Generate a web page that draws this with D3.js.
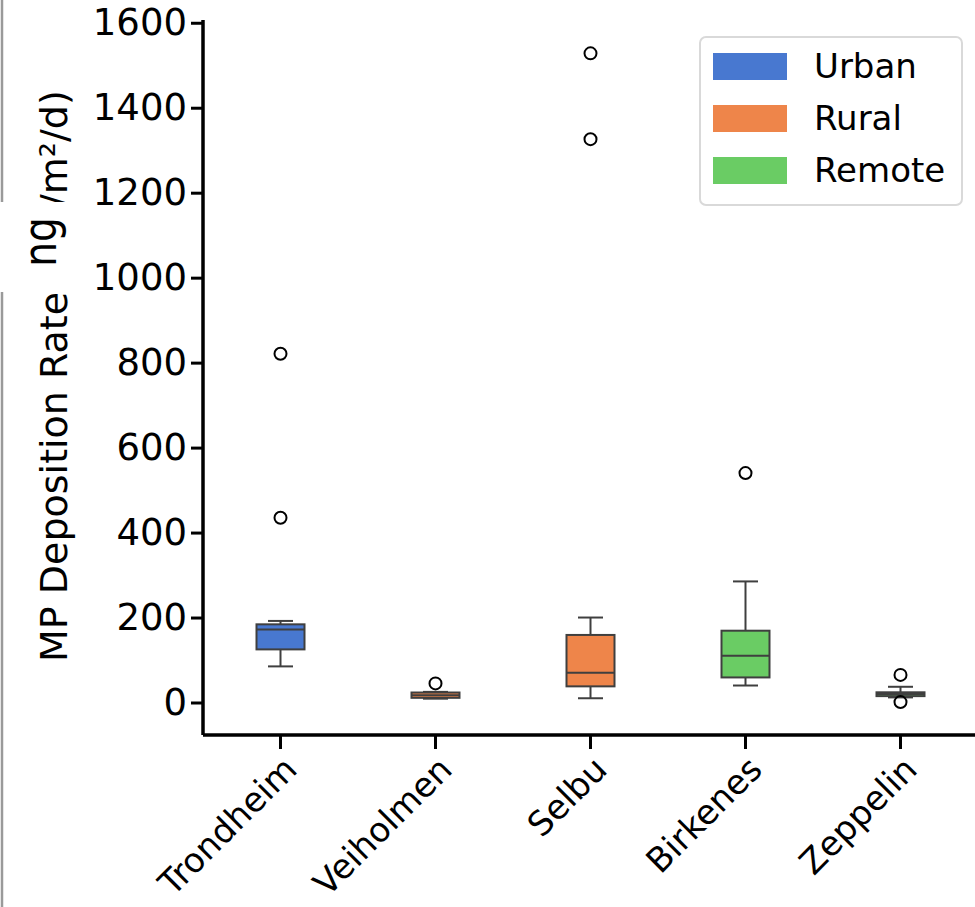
<!DOCTYPE html>
<html>
<head>
<meta charset="utf-8">
<script src="https://cdn.jsdelivr.net/npm/d3@7"></script>
<style>
  html, body { margin: 0; padding: 0; background: #fff; }
  svg { display: block; font-family: "DejaVu Sans", sans-serif; }
</style>
</head>
<body>
<div id="chart"></div>
<script>
// box summary per site
const sites = ["Trondheim", "Veiholmen", "Selbu", "Birkenes", "Zeppelin"];
const siteType = ["Urban", "Rural", "Rural", "Remote", "Remote"];
const whiskerLow = [85, 9, 10, 40, 12];
const q1 = [125, 11, 38, 59, 15];
const median = [172, 17, 70, 110, 20];
const q3 = [184, 23.5, 159, 169, 24];
const whiskerHigh = [192, 25, 200, 285, 37];
const outliers = [[435, 821], [45], [1326, 1528], [540], [1, 65]];
const yTicks = [0, 200, 400, 600, 800, 1000, 1200, 1400, 1600];
const groups = ["Urban", "Rural", "Remote"];
const groupColors = ["#4878d0", "#ee854a", "#6acc64"];

const W = 975, H = 907;
const margin = { top: 20, right: -3, bottom: 172, left: 203 };

const svg = d3.select("#chart").append("svg")
  .attr("width", W).attr("height", H);

const x = d3.scaleBand()
  .domain(sites)
  .range([margin.left, W - margin.right]);

const y = d3.scaleLinear()
  .domain([-76.5, 1606.5])
  .range([H - margin.bottom, margin.top]);

const color = d3.scaleOrdinal().domain(groups).range(groupColors);

const boxW = 48, capW = 25;
const edge = "#3f3f3f";

const g = svg.append("g");

sites.forEach((s, i) => {
  const cx = x(s) + x.bandwidth() / 2;
  const bg = g.append("g");
  // whiskers
  bg.append("line").attr("x1", cx).attr("x2", cx)
    .attr("y1", y(q3[i])).attr("y2", y(whiskerHigh[i]))
    .attr("stroke", edge).attr("stroke-width", 2);
  bg.append("line").attr("x1", cx).attr("x2", cx)
    .attr("y1", y(q1[i])).attr("y2", y(whiskerLow[i]))
    .attr("stroke", edge).attr("stroke-width", 2);
  [whiskerHigh[i], whiskerLow[i]].forEach(v => {
    bg.append("line").attr("x1", cx - capW / 2).attr("x2", cx + capW / 2)
      .attr("y1", y(v)).attr("y2", y(v))
      .attr("stroke", edge).attr("stroke-width", 2);
  });
  // box
  bg.append("rect")
    .attr("x", cx - boxW / 2).attr("width", boxW)
    .attr("y", y(q3[i])).attr("height", y(q1[i]) - y(q3[i]))
    .attr("fill", color(siteType[i]))
    .attr("stroke", edge).attr("stroke-width", 2);
  bg.append("line").attr("x1", cx - boxW / 2).attr("x2", cx + boxW / 2)
    .attr("y1", y(median[i])).attr("y2", y(median[i]))
    .attr("stroke", edge).attr("stroke-width", 2);
  // fliers
  bg.selectAll("circle").data(outliers[i]).join("circle")
    .attr("cx", cx).attr("cy", d => y(d)).attr("r", 6)
    .attr("fill", "none").attr("stroke", "#000").attr("stroke-width", 2);
});

// axes
const yAxis = svg.append("g")
  .attr("transform", `translate(${margin.left},0)`)
  .call(d3.axisLeft(y).tickValues(yTicks).tickSize(12).tickPadding(4).tickFormat(d3.format("d")));
yAxis.select(".domain").attr("d", `M0,${margin.top}V${H - margin.bottom}`);

const xAxis = svg.append("g")
  .attr("transform", `translate(0,${H - margin.bottom})`)
  .call(d3.axisBottom(x).tickSize(14).tickPadding(8));
xAxis.select(".domain").attr("d", `M${margin.left},0H${W + 5}`);

[yAxis, xAxis].forEach(a => {
  a.select(".domain").attr("stroke", "#000").attr("stroke-width", 3.5);
  a.selectAll(".tick line").attr("stroke", "#000").attr("stroke-width", 3);
  a.selectAll("text").attr("fill", "#000").attr("font-size", 37)
    .attr("font-family", "DejaVu Sans");
});

xAxis.selectAll(".tick text")
  .attr("font-size", 34)
  .attr("text-anchor", "end")
  .attr("dy", "0.35em")
  .attr("y", 0)
  .attr("transform", "translate(10,28) rotate(-45)");

// y label (with the patched unit part)
svg.append("line").attr("x1", 2).attr("x2", 2).attr("y1", 0).attr("y2", H)
  .attr("stroke", "#9a9a9a").attr("stroke-width", 2.5);

svg.append("text")
  .attr("transform", "translate(67,662) rotate(-90)")
  .attr("font-size", 38).attr("fill", "#000")
  .text("MP Deposition Rate");
svg.append("text")
  .attr("transform", "translate(67,207) rotate(-90)")
  .attr("font-size", 38).attr("fill", "#000")
  .text("/m²/d)");
svg.append("rect").attr("x", 0).attr("y", 202).attr("width", 78).attr("height", 90)
  .attr("fill", "#fff");
svg.append("text")
  .attr("transform", "translate(56,242) rotate(-90) scale(0.85,1)")
  .attr("text-anchor", "middle")
  .attr("font-size", 46).attr("fill", "#000")
  .text("ng");

// legend
const lg = svg.append("g").attr("transform", "translate(700,37)");
lg.append("rect").attr("width", 262).attr("height", 168).attr("rx", 6)
  .attr("fill", "#fff").attr("stroke", "#d9d9d9").attr("stroke-width", 2);
groups.forEach((name, i) => {
  const row = lg.append("g").attr("transform", `translate(0,${16 + i * 52})`);
  row.append("rect").attr("x", 13).attr("width", 74).attr("height", 27)
    .attr("fill", color(name));
  row.append("text").attr("x", 114).attr("y", 13.5).attr("dy", "0.35em")
    .attr("font-size", 34).attr("fill", "#000").text(name);
});
</script>
</body>
</html>
